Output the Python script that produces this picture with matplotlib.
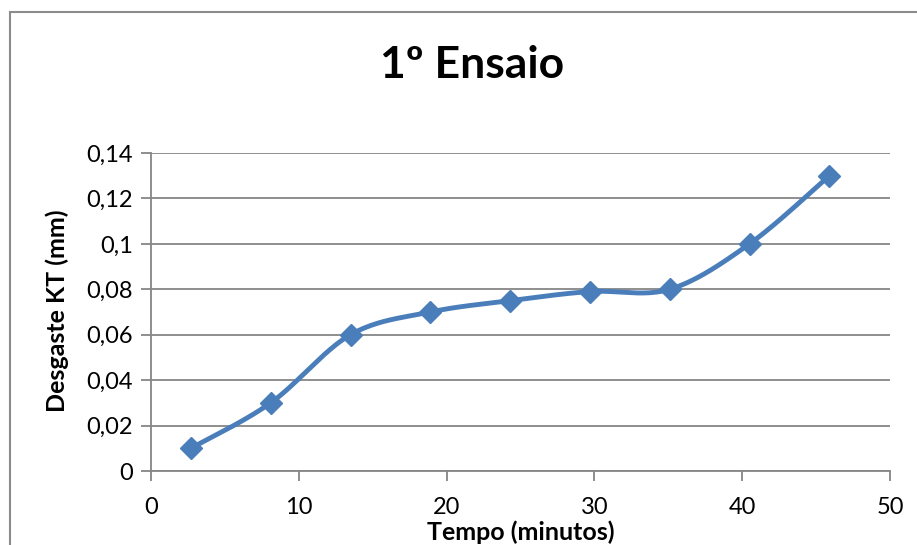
import numpy as np
import matplotlib.pyplot as plt
from matplotlib.patches import Rectangle
from matplotlib.ticker import FuncFormatter

# data
tempo = [2.7, 8.1, 13.5, 18.9, 24.3, 29.7, 35.1, 40.5, 45.9]
desgaste = [0.01, 0.03, 0.06, 0.07, 0.075, 0.079, 0.08, 0.10, 0.13]
xticks = [0, 10, 20, 30, 40, 50]
yticks = [0, 0.02, 0.04, 0.06, 0.08, 0.10, 0.12, 0.14]


def smooth(x, y, n=40, t=1/6):
    # Excel-style smoothed line: cubic bezier with catmull-rom control points
    x = np.asarray(x, float)
    y = np.asarray(y, float)
    px = np.concatenate([[x[0]], x, [x[-1]]])
    py = np.concatenate([[y[0]], y, [y[-1]]])
    xs, ys = [], []
    s = np.linspace(0, 1, n)
    for i in range(len(x) - 1):
        p0 = np.array([px[i + 1], py[i + 1]])
        p3 = np.array([px[i + 2], py[i + 2]])
        c1 = p0 + t * (p3 - np.array([px[i], py[i]]))
        c2 = p3 - t * (np.array([px[i + 3], py[i + 3]]) - p0)
        b = ((1 - s) ** 3)[:, None] * p0 + (3 * (1 - s) ** 2 * s)[:, None] * c1 \
            + (3 * (1 - s) * s ** 2)[:, None] * c2 + (s ** 3)[:, None] * p3
        xs.append(b[:, 0])
        ys.append(b[:, 1])
    return np.concatenate(xs), np.concatenate(ys)


plt.rcParams['font.family'] = ['Lato', 'DejaVu Sans']

fig = plt.figure(figsize=(9.17, 5.45), dpi=100)
ax = fig.add_axes([151/917, 1 - 471/545, (890 - 151)/917, (471 - 153)/545])

# chart area border (cropped at right and bottom)
fig.patches.append(Rectangle((10/917, -0.1), 1.2, 0.1 + 1 - 12/545, transform=fig.transFigure,
                             fill=False, edgecolor='#8c8c8c', lw=1.5))

blue = '#4a7ebb'
sx, sy = smooth(tempo, desgaste)
ax.plot(sx, sy, color=blue, lw=3.5, solid_capstyle='round', zorder=3)
ax.plot(tempo, desgaste, ls='none', marker='D', ms=11.5, color=blue, zorder=4)

ax.set_xlim(0, 50)
ax.set_ylim(0, 0.14)
ax.set_xticks(xticks)
ax.set_yticks(yticks)
ax.yaxis.set_major_formatter(FuncFormatter(lambda v, p: ('%g' % round(v, 2)).replace('.', ',')))
ax.grid(axis='y', color='#868686', lw=1.3)
ax.set_axisbelow(True)
for s in ['top', 'right']:
    ax.spines[s].set_visible(False)
for s in ['left', 'bottom']:
    ax.spines[s].set_color('#868686')
    ax.spines[s].set_linewidth(1.3)
ax.tick_params(axis='both', colors='#868686', labelcolor='black', labelsize=17, length=7, width=1.3)
ax.tick_params(axis='x', pad=12)
ax.tick_params(axis='y', pad=6)

fig.text(521/917, 1 - 540/545, 'Tempo (minutos)', fontsize=18, fontweight='bold',
         ha='center', va='baseline')
fig.text(57/917, 1 - 311/545, 'Desgaste KT (mm)', fontsize=18, fontweight='bold',
         ha='center', va='center', rotation=90)
fig.text(472/917, 1 - 65/545, '1º Ensaio', fontsize=32, fontweight='bold', ha='center', va='center')

fig.savefig('out.png', dpi=100)
